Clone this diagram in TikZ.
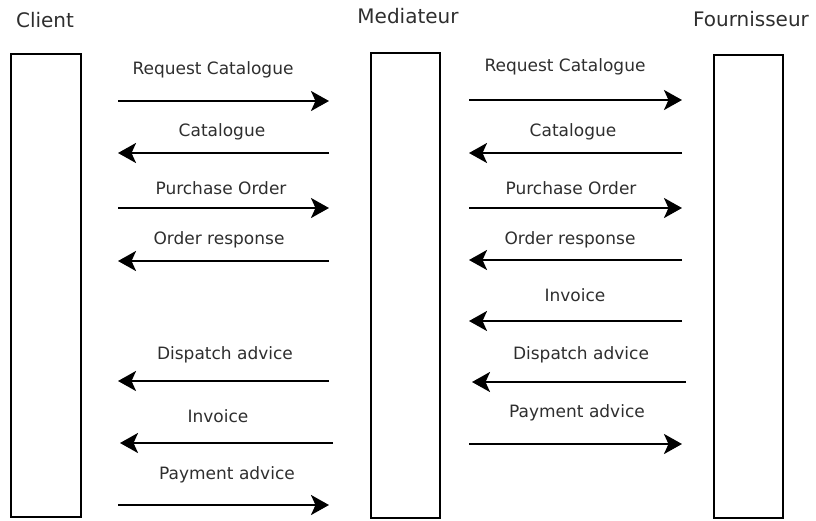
\documentclass[tikz,border=0pt]{standalone}
\usepackage{fontspec}
\setmainfont{DejaVu Sans}
\usetikzlibrary{arrows.meta}
\begin{document}
\begin{tikzpicture}[x=1pt,y=-1pt,
  lifeline/.style={draw=black,line width=2pt,fill=white,inner sep=0pt},
  title/.style={text=black!82,font=\fontsize{20}{24}\selectfont,inner sep=0pt},
  msg/.style={text=black!82,font=\fontsize{17}{20}\selectfont,inner sep=0pt},
  flow/.style={line width=2.4pt,-{Stealth[length=18pt 0,width=20pt 0,inset=4.5pt 0]}}]
\useasboundingbox (0,0) rectangle (816,520);
% lifelines
\node[lifeline,minimum width=70pt,minimum height=463pt] (client) at (46,285.5) {};
\node[lifeline,minimum width=69pt,minimum height=465pt] (med) at (405.5,285.5) {};
\node[lifeline,minimum width=69pt,minimum height=463pt] (four) at (748.5,286.5) {};
\node[title] (tc) at (45,20) {Client};
\node[title] (tm) at (408,16) {Mediateur};
\node[title] (tf) at (751,19) {Fournisseur};
% left column
\coordinate (a1s) at (118,101); \coordinate (a1e) at (329,101);
\coordinate (a2s) at (329,153); \coordinate (a2e) at (118,153);
\coordinate (a3s) at (118,208); \coordinate (a3e) at (329,208);
\coordinate (a4s) at (329,261); \coordinate (a4e) at (118,261);
\coordinate (a5s) at (329,381); \coordinate (a5e) at (118,381);
\coordinate (a6s) at (333,443); \coordinate (a6e) at (120,443);
\coordinate (a7s) at (118,505); \coordinate (a7e) at (329,505);
\draw[flow] (a1s) -- (a1e);
\draw[flow] (a2s) -- (a2e);
\draw[flow] (a3s) -- (a3e);
\draw[flow] (a4s) -- (a4e);
\draw[flow] (a5s) -- (a5e);
\draw[flow] (a6s) -- (a6e);
\draw[flow] (a7s) -- (a7e);
\node[msg] (l1) at (213,70) {Request Catalogue};
\node[msg] (l2) at (222,132) {Catalogue};
\node[msg] (l3) at (221,188) {Purchase Order};
\node[msg] (l4) at (219,240) {Order response};
\node[msg] (l5) at (225,355) {Dispatch advice};
\node[msg] (l6) at (218,416) {Invoice};
\node[msg] (l7) at (227,475) {Payment advice};
% right column
\coordinate (b1s) at (469,100); \coordinate (b1e) at (682,100);
\coordinate (b2s) at (682,153); \coordinate (b2e) at (469,153);
\coordinate (b3s) at (469,208); \coordinate (b3e) at (682,208);
\coordinate (b4s) at (682,260); \coordinate (b4e) at (469,260);
\coordinate (b5s) at (682,321); \coordinate (b5e) at (469,321);
\coordinate (b6s) at (686,382); \coordinate (b6e) at (472,382);
\coordinate (b7s) at (469,444); \coordinate (b7e) at (682,444);
\draw[flow] (b1s) -- (b1e);
\draw[flow] (b2s) -- (b2e);
\draw[flow] (b3s) -- (b3e);
\draw[flow] (b4s) -- (b4e);
\draw[flow] (b5s) -- (b5e);
\draw[flow] (b6s) -- (b6e);
\draw[flow] (b7s) -- (b7e);
\node[msg] (r1) at (565,67) {Request Catalogue};
\node[msg] (r2) at (573,132) {Catalogue};
\node[msg] (r3) at (571,188) {Purchase Order};
\node[msg] (r4) at (570,240) {Order response};
\node[msg] (r5) at (575,295) {Invoice};
\node[msg] (r6) at (581,355) {Dispatch advice};
\node[msg] (r7) at (577,413) {Payment advice};
\end{tikzpicture}
\end{document}
